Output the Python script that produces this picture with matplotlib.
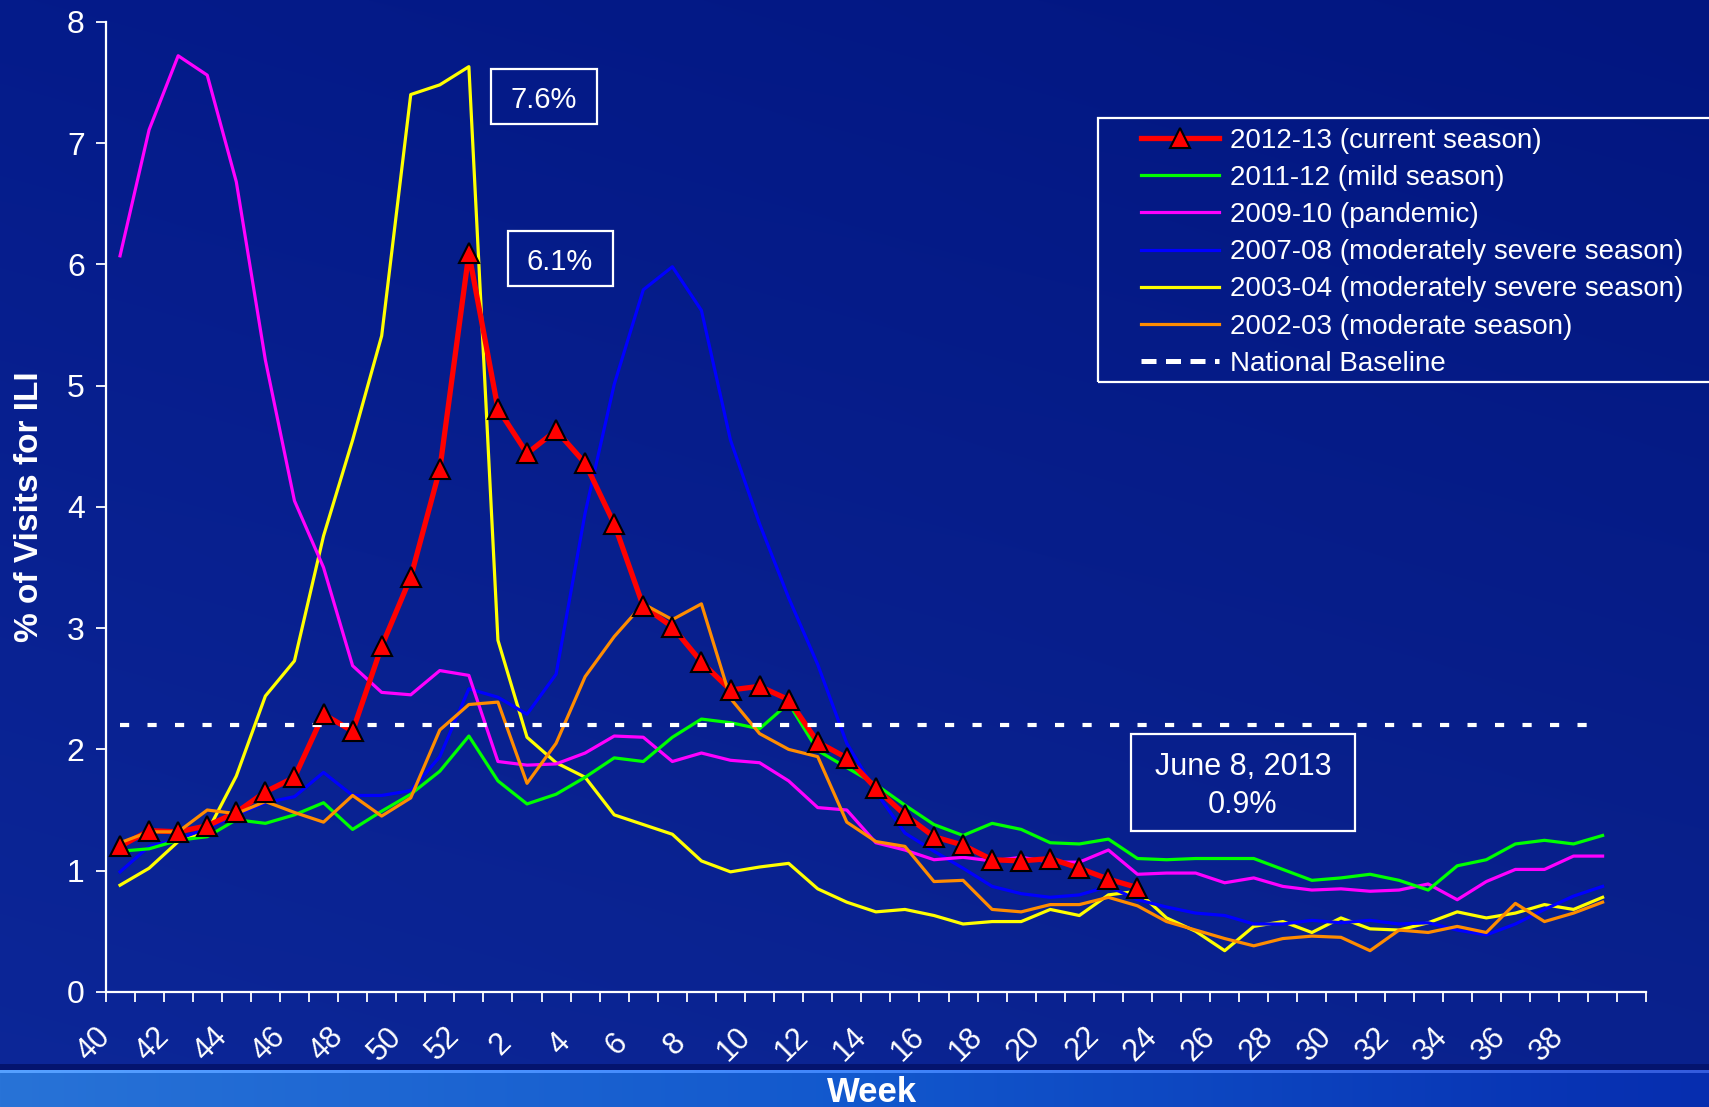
import numpy as np
import matplotlib
matplotlib.use("Agg")
import matplotlib.pyplot as plt
import matplotlib.transforms as mtransforms
from matplotlib.lines import Line2D
from matplotlib.patches import Rectangle

plt.rcParams['font.family'] = ['Liberation Sans', 'DejaVu Sans']

# ---------------- data ----------------
weeks = [40, 41, 42, 43, 44, 45, 46, 47, 48, 49, 50, 51, 52] + list(range(1, 40))
tick_weeks = [40, 42, 44, 46, 48, 50, 52, 2, 4, 6, 8, 10, 12, 14, 16, 18, 20, 22,
              24, 26, 28, 30, 32, 34, 36, 38]

s2012_13 = [1.20, 1.33, 1.32, 1.37, 1.48, 1.65, 1.77, 2.29, 2.15, 2.85, 3.42, 4.31,
            6.09, 4.81, 4.44, 4.63, 4.36, 3.86, 3.18, 3.01, 2.72, 2.49, 2.52, 2.41,
            2.06, 1.93, 1.68, 1.46, 1.28, 1.21, 1.09, 1.08, 1.10, 1.02, 0.93, 0.86]
s2011_12 = [1.16, 1.18, 1.25, 1.28, 1.42, 1.39, 1.46, 1.56, 1.34, 1.49, 1.63, 1.82,
            2.11, 1.74, 1.55, 1.63, 1.77, 1.93, 1.90, 2.10, 2.25, 2.22, 2.17, 2.38,
            1.99, 1.85, 1.71, 1.54, 1.38, 1.29, 1.39, 1.34, 1.23, 1.22, 1.26, 1.10,
            1.09, 1.10, 1.10, 1.10, 1.01, 0.92, 0.94, 0.97, 0.92, 0.84, 1.04, 1.09,
            1.22, 1.25, 1.22, 1.29]
s2009_10 = [6.07, 7.11, 7.72, 7.56, 6.68, 5.21, 4.05, 3.50, 2.69, 2.47, 2.45, 2.65,
            2.61, 1.90, 1.87, 1.88, 1.97, 2.11, 2.10, 1.90, 1.97, 1.91, 1.89, 1.74,
            1.52, 1.50, 1.23, 1.17, 1.09, 1.11, 1.08, 1.11, 1.07, 1.07, 1.17, 0.97,
            0.98, 0.98, 0.90, 0.94, 0.87, 0.84, 0.85, 0.83, 0.84, 0.89, 0.76, 0.91,
            1.01, 1.01, 1.12, 1.12]
s2007_08 = [0.99, 1.20, 1.26, 1.35, 1.46, 1.56, 1.61, 1.81, 1.62, 1.62, 1.66, 1.94,
            2.50, 2.43, 2.29, 2.62, 3.95, 5.01, 5.79, 5.98, 5.62, 4.55, 3.86, 3.25,
            2.70, 2.05, 1.65, 1.31, 1.16, 1.02, 0.87, 0.81, 0.78, 0.80, 0.87, 0.76,
            0.70, 0.65, 0.63, 0.56, 0.56, 0.59, 0.57, 0.59, 0.56, 0.57, 0.51, 0.47,
            0.56, 0.68, 0.79, 0.87]
s2003_04 = [0.88, 1.02, 1.24, 1.32, 1.78, 2.44, 2.73, 3.76, 4.55, 5.41, 7.40, 7.48,
            7.63, 2.90, 2.10, 1.89, 1.77, 1.46, 1.38, 1.30, 1.08, 0.99, 1.03, 1.06,
            0.85, 0.74, 0.66, 0.68, 0.63, 0.56, 0.58, 0.58, 0.68, 0.63, 0.80, 0.83,
            0.61, 0.50, 0.34, 0.54, 0.58, 0.49, 0.61, 0.52, 0.51, 0.57, 0.66, 0.61,
            0.65, 0.72, 0.68, 0.78]
s2002_03 = [1.23, 1.32, 1.32, 1.50, 1.47, 1.57, 1.48, 1.40, 1.62, 1.45, 1.60, 2.16,
            2.37, 2.39, 1.72, 2.05, 2.60, 2.93, 3.20, 3.07, 3.20, 2.42, 2.13, 2.00,
            1.94, 1.40, 1.24, 1.20, 0.91, 0.92, 0.68, 0.66, 0.72, 0.72, 0.78, 0.71,
            0.58, 0.51, 0.44, 0.38, 0.44, 0.46, 0.45, 0.34, 0.51, 0.49, 0.54, 0.49,
            0.73, 0.58, 0.65, 0.74]
national_baseline = 2.2

series_labels = ["2012-13 (current season)", "2011-12 (mild season)",
                 "2009-10 (pandemic)", "2007-08 (moderately severe season)",
                 "2003-04 (moderately severe season)", "2002-03 (moderate season)",
                 "National Baseline"]
peak_label_2003 = "7.6%"
peak_label_2012 = "6.1%"
current_label = "June 8, 2013\n0.9%"
xlabel = "Week"
ylabel = "% of Visits for ILI"

# ---------------- figure ----------------
W, H = 1709, 1107
fig = plt.figure(figsize=(W / 100, H / 100), dpi=100)

# background
yy, xx = np.mgrid[0:H, 0:W]
xn = xx / W
yn = yy / H
top = np.array([2, 22, 128]) / 255.0
bot = np.array([10, 34, 142]) / 255.0
img = top[None, None, :] * (1 - yn[..., None]) + bot[None, None, :] * yn[..., None]
light = (1 - xn)[..., None] * np.array([0.01, 0.02, 0.04])
img = img + light
band_top = 1070
bandL = np.array([40, 115, 215]) / 255.0
bandM = np.array([18, 88, 205]) / 255.0
bandR = np.array([6, 45, 175]) / 255.0
band = np.where(xn[..., None] < 0.5,
                bandL * (1 - 2 * xn[..., None]) + bandM * (2 * xn[..., None]),
                bandM * (2 - 2 * xn[..., None]) + bandR * (2 * xn[..., None] - 1))
mask = (yy >= band_top)[..., None]
img = np.where(mask, band, img)
shadow = ((yy >= band_top - 6) & (yy < band_top))[..., None]
img = np.where(shadow, np.array([4, 20, 110]) / 255.0, img)
streak = ((yy >= band_top) & (yy < band_top + 3))[..., None]
img = np.where(streak, np.clip(band + 0.18, 0, 1), img)
img = np.clip(img, 0, 1)

bg = fig.add_axes([0, 0, 1, 1], zorder=-10)
bg.imshow(img, extent=[0, 1, 0, 1], aspect='auto', origin='upper')
bg.set_axis_off()

# main axes
x0, x1 = 105.5, 1646.2
y0, y1 = 991.9, 21.8
ax = fig.add_axes([x0 / W, 1 - y0 / H, (x1 - x0) / W, (y0 - y1) / H])
ax.set_facecolor('none')
ax.set_xlim(-0.5, 52.5)
ax.set_ylim(0, 8)

idx = np.arange(len(weeks))
n12 = len(s2012_13)

lw = 2.3
red_lw = 3.8
tri_ms = 15
ax.plot(idx, s2003_04, color='#FFFF00', lw=lw, zorder=2)
ax.plot(idx, s2007_08, color='#0000FF', lw=lw, zorder=2.1)
ax.plot(idx, s2009_10, color='#FF00FF', lw=lw, zorder=2.2)
ax.plot(idx, s2011_12, color='#00FF00', lw=lw, zorder=2.3)
ax.plot(idx[:n12], s2012_13, color='#FF0000', lw=red_lw, zorder=2.5)
ax.plot(idx, s2002_03, color='#FF8C00', lw=lw, zorder=2.6)
ax.plot(idx[:n12], s2012_13, ls='none', marker='^', ms=tri_ms, mfc='#FF0000',
        mec='black', mew=1.5, zorder=3)
ax.plot(idx, [national_baseline] * len(idx), color='white', lw=3,
        dashes=(2.2, 4.4), zorder=2.8)

# spines and ticks
for s in ['top', 'right']:
    ax.spines[s].set_visible(False)
for s in ['left', 'bottom']:
    ax.spines[s].set_color('white')
    ax.spines[s].set_linewidth(1.6)
ax.set_yticks(range(0, 9))
ax.tick_params(axis='y', colors='white', labelcolor='white', labelsize=23,
               length=7, width=1.3, pad=8, direction='out')
ax.set_xticks(np.arange(-0.5, 53, 1))
ax.set_xticklabels([])
ax.tick_params(axis='x', colors='white', length=7.5, width=1.3, direction='out')

week_to_idx = {}
for i, w in enumerate(weeks):
    week_to_idx.setdefault(w, i)
trans = mtransforms.blended_transform_factory(ax.transData, ax.transAxes)
off = mtransforms.ScaledTranslation(-26 / 100, -52 / 100, fig.dpi_scale_trans)
for w in tick_weeks:
    ax.text(week_to_idx[w], 0, str(w), transform=trans + off, rotation=45,
            ha='center', va='center', rotation_mode='anchor',
            color='white', fontsize=22)

fig.text(872 / W, 1 - 1093 / H, xlabel, ha='center', va='center',
         color='white', fontsize=25, fontweight='bold')
fig.text(29.5 / W, 1 - 507 / H, ylabel, ha='center', va='center', rotation=90,
         color='white', fontsize=24, fontweight='bold')

# legend
handles = [
    Line2D([], [], color='#FF0000', lw=red_lw, marker='^', ms=tri_ms, mfc='#FF0000',
           mec='black', mew=1.5),
    Line2D([], [], color='#00FF00', lw=lw),
    Line2D([], [], color='#FF00FF', lw=lw),
    Line2D([], [], color='#0000FF', lw=lw),
    Line2D([], [], color='#FFFF00', lw=lw),
    Line2D([], [], color='#FF8C00', lw=lw),
    Line2D([], [], color='white', lw=3.6, dashes=(3.0, 1.9)),
]
leg = fig.legend(handles, series_labels, loc='upper left',
                 bbox_to_anchor=(1141 / W, 1 - 128 / H), frameon=False,
                 fontsize=20, handlelength=2.8, handletextpad=0.4,
                 labelspacing=0.40, borderpad=0.0, borderaxespad=0.0,
                 markerscale=1.0)
for t in leg.get_texts():
    t.set_color('white')
fig.patches.append(Rectangle((1097.6 / W, 1 - 381.5 / H), (1715 - 1097.6) / W,
                             (381.5 - 117.7) / H, transform=fig.transFigure,
                             fill=False, edgecolor='white', lw=1.6, zorder=5))

# annotation boxes
def box(xa, ya, xb, yb):
    fig.patches.append(Rectangle((xa / W, 1 - yb / H), (xb - xa) / W, (yb - ya) / H,
                                 transform=fig.transFigure, fill=False,
                                 edgecolor='white', lw=1.6, zorder=5))

box(490.5, 68.7, 597.3, 124.3)
fig.text(544 / W, 1 - 100 / H, peak_label_2003, ha='center', va='center',
         color='white', fontsize=21)
box(508, 231, 612.6, 285.6)
fig.text(560 / W, 1 - 261.5 / H, peak_label_2012, ha='center', va='center',
         color='white', fontsize=21)
box(1131.4, 733.6, 1354.9, 830.6)
fig.text(1243 / W, 1 - 786 / H, current_label, ha='center', va='center',
         color='white', fontsize=22, linespacing=1.38)

fig.savefig('out.png', dpi=100)
